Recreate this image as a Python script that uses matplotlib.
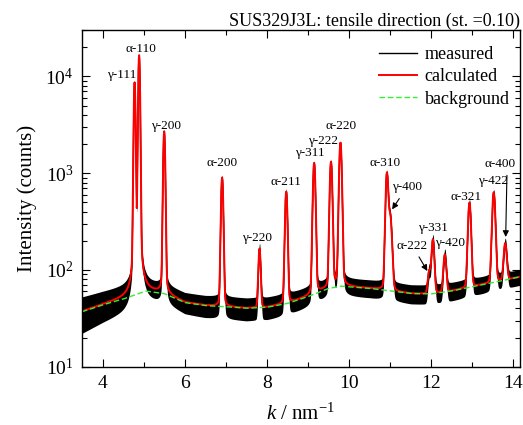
import numpy as np
import matplotlib
matplotlib.use("Agg")
import matplotlib.pyplot as plt
from matplotlib.ticker import LogLocator, MultipleLocator, NullFormatter

plt.rcParams["font.family"] = ["Liberation Serif", "DejaVu Serif"]
plt.rcParams["mathtext.fontset"] = "custom"
plt.rcParams["mathtext.rm"] = "Liberation Serif"
plt.rcParams["mathtext.it"] = "Liberation Serif:italic"

# peak table: position (nm^-1), height (counts), FWHM
peak_names = ["γ-111", "α-110", "γ-200", "α-200", "γ-220", "α-211", "γ-311",
              "γ-222", "α-220", "α-310", "γ-400", "α-222", "γ-331", "γ-420",
              "α-321", "γ-422", "α-400"]
peak_k = [4.78, 4.89, 5.50, 6.91, 7.82, 8.47, 9.15, 9.56, 9.79, 10.92, 11.00,
          11.95, 12.04, 12.33, 12.93, 13.52, 13.80]
peak_h = [8600, 16500, 2650, 860, 125, 600, 1220, 1250, 2000, 930, 300,
          40, 150, 85, 430, 560, 110]
peak_w = [0.042, 0.042, 0.048, 0.055, 0.058, 0.060, 0.062, 0.063, 0.064, 0.068,
          0.085, 0.072, 0.072, 0.074, 0.075, 0.078, 0.080]
eta = 0.06  # Lorentzian fraction

# background (green dashed) read at these k values
bg_k = [3.5, 4.0, 4.5, 5.05, 5.5, 6.0, 6.5, 7.0, 7.5, 8.0, 8.5, 9.0, 9.5, 9.8,
        10.0, 10.5, 11.0, 11.5, 12.0, 12.5, 13.0, 13.5, 14.0, 14.16]
bg_I = [37, 43.5, 50, 60.5, 57, 46, 42.8, 41.7, 40.2, 41.1, 45, 53, 64.5, 68,
        67, 64.5, 60.7, 57, 56.5, 60.7, 67, 74, 82, 85]

# spread of the measured counts (multiples of sqrt(I)) along k
noise_k = [3.5, 4.6, 5.0, 14.16]
noise_a = [2.5, 2.2, 1.7, 1.7]

# label positions (k, I)
lab_k = [4.47, 4.93, 5.545, 6.915, 7.77, 8.46, 9.05, 9.37, 9.80, 10.87, 11.40,
         11.54, 12.03, 12.46, 12.84, 13.51, 13.67]
lab_I = [10300, 19000, 3100, 1270, 216, 807, 1610, 2170, 3090, 1290, 712,
         178, 270, 189, 573, 832, 1250]

k = np.linspace(3.5, 14.16, 4000)
bg = np.exp(np.interp(k, bg_k, np.log(bg_I)))
calc = bg.copy()
for p, h, w in zip(peak_k, peak_h, peak_w):
    g = np.exp(-4 * np.log(2) * ((k - p) / w) ** 2)
    lor = 1 / (1 + (2 * (k - p) / w) ** 2)
    calc += h * ((1 - eta) * g + eta * lor)
a = np.interp(k, noise_k, noise_a)
lo = calc - a * np.sqrt(calc)
hi = calc + a * np.sqrt(calc)

fig = plt.figure(figsize=(5.23, 4.25), dpi=100)
ax = fig.add_axes([0.1568, 0.1372, 0.8375, 0.7915])

ax.fill_between(k, lo, hi, color="black", lw=0)
ax.plot(k, calc, color="black", lw=1.0, label="measured")
ax.plot(k, calc, color="red", lw=1.4, label="calculated")
ax.plot(k, bg, color="#33ee33", lw=1.0, ls=(0, (4, 2)), label="background")

for name, x, y in zip(peak_names, lab_k, lab_I):
    if name in ("γ-400", "α-222", "α-400"):
        continue
    ax.text(x, y, name, ha="center", va="center", fontsize=9.5)

arr = dict(arrowstyle="-|>", color="black", lw=0.8, mutation_scale=9)
ax.annotate("γ-400", xy=(11.01, 400), xytext=(11.40, 712), ha="center",
            va="center", fontsize=9.5, arrowprops=arr)
ax.annotate("α-222", xy=(11.94, 92), xytext=(11.54, 178), ha="center",
            va="center", fontsize=9.5, arrowprops=arr)
ax.annotate("α-400", xy=(13.81, 205), xytext=(13.67, 1250), ha="center",
            va="center", fontsize=9.5,
            arrowprops=dict(arrowstyle="-|>", color="black", lw=0.8,
                            mutation_scale=9, relpos=(0.73, 0.0)))

ax.set_yscale("log")
ax.set_xlim(3.5, 14.16)
ax.set_ylim(10, 3.0e4)
ax.xaxis.set_major_locator(MultipleLocator(2))
ax.xaxis.set_minor_locator(MultipleLocator(1))
ax.yaxis.set_major_locator(LogLocator(base=10, numticks=10))
ax.yaxis.set_minor_locator(LogLocator(base=10, subs=np.arange(2, 10), numticks=10))
ax.yaxis.set_minor_formatter(NullFormatter())
ax.tick_params(which="both", direction="in", top=True, right=True, labelsize=14)
ax.tick_params(which="major", length=6, width=0.8, pad=6)
ax.tick_params(which="minor", length=3.5, width=0.8)
for s in ax.spines.values():
    s.set_linewidth(1.0)

ax.set_xlabel("$k$ / nm$^{-1}$", fontsize=15, labelpad=8)
ax.set_ylabel("Intensity (counts)", fontsize=15, labelpad=6)
ax.set_title("SUS329J3L: tensile direction (st. =0.10)", loc="right",
             fontsize=13, pad=3)
ax.legend(loc="upper right", bbox_to_anchor=(0.993, 0.975), frameon=False,
          fontsize=13, handlelength=2.1, handletextpad=0.45, labelspacing=0.3,
          borderaxespad=0)

fig.savefig("out.png", dpi=100)
